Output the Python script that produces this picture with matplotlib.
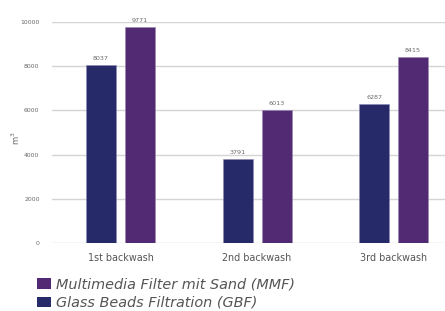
import numpy as np
import matplotlib.pyplot as plt
from matplotlib.patches import Patch

categories = ["1st backwash", "2nd backwash", "3rd backwash"]
gbf = [8037, 3791, 6287]
mmf = [9771, 6013, 8415]
yticks = [0, 2000, 4000, 6000, 8000, 10000]

c_gbf = "#262a68"
c_mmf = "#522a74"
grey = "#6a6a6a"

fig = plt.figure(figsize=(4.45, 3.11), dpi=100)
ax = fig.add_axes([0.117, 0.219, 0.883, 0.71])

x = np.arange(len(categories))
w = 0.22
off = 0.143
b1 = ax.bar(x - off, gbf, w, color=c_gbf, edgecolor="#8a88b8", linewidth=0.4, zorder=3)
b2 = ax.bar(x + off, mmf, w, color=c_mmf, edgecolor="#9a86b0", linewidth=0.4, zorder=3)

for bars, vals in [(b1, gbf), (b2, mmf)]:
    for b, v in zip(bars, vals):
        ax.text(b.get_x() + b.get_width() / 2, v + 180, str(v), ha="center", va="bottom",
                fontsize=4.6, color=grey)

ax.set_xlim(-0.502, 2.377)
ax.set_ylim(0, 10000)
ax.set_yticks(yticks)
ax.set_yticklabels([str(t) for t in yticks], fontsize=4.4, color=grey)
ax.set_xticks(x)
ax.set_xticklabels(categories, fontsize=6.9, color="#555555")
ax.tick_params(axis="both", length=0)
ax.tick_params(axis="y", pad=9)
ax.tick_params(axis="x", pad=7)
ax.yaxis.grid(True, color="#d4d4d4", linewidth=1.0, zorder=0)
for s in ax.spines.values():
    s.set_visible(False)
fig.text(16 / 445, 1 - 138 / 311, "m$^3$", fontsize=6, color=grey,
         rotation=90, ha="center", va="center")

handles = [Patch(facecolor=c_mmf, label="Multimedia Filter mit Sand (MMF)"),
           Patch(facecolor=c_gbf, label="Glass Beads Filtration (GBF)")]
leg = fig.legend(handles=handles, loc="lower left", bbox_to_anchor=(37 / 445, 1 / 311),
                 frameon=False, prop={"style": "italic", "size": 10.4},
                 handlelength=1.0, handleheight=0.75, handletextpad=0.35,
                 labelspacing=0.3, borderpad=0, borderaxespad=0)
for t in leg.get_texts():
    t.set_color("#555555")

plt.savefig("out.png", dpi=100)
